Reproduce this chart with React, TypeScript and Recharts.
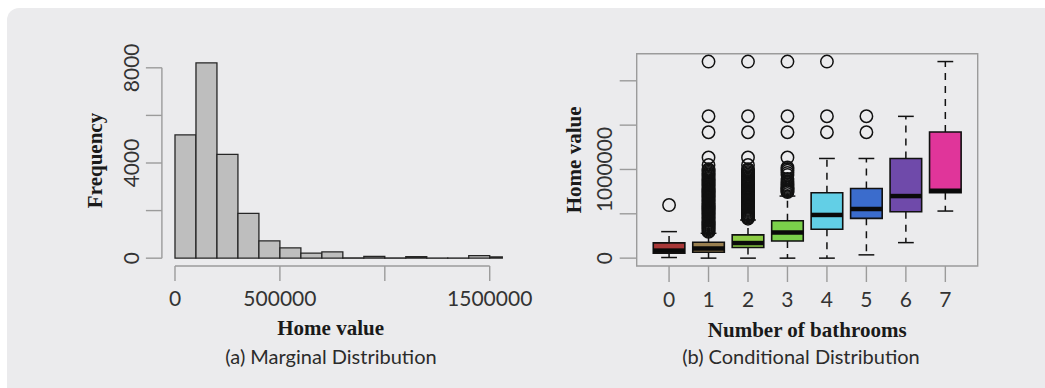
import React from "react"
import {
  ComposedChart,
  XAxis,
  YAxis,
  ReferenceArea,
  ReferenceLine,
  Scatter,
  Label,
} from "recharts"

// ---- (a) histogram of home values ----
const histBreaks = [
  0, 100000, 200000, 300000, 400000, 500000, 600000, 700000, 800000,
  900000, 1000000, 1100000, 1200000, 1300000, 1400000, 1500000, 1560000,
]
const histCounts = [5180, 8210, 4360, 1880, 730, 430, 210, 265, 12, 70, 10, 60, 6, 6, 110, 55]
const histXTicks = [0, 500000, 1000000, 1500000]
const histXLabels = [0, 500000, 1500000]
const histYTicks = [0, 2000, 4000, 6000, 8000]
const histYLabels = [0, 4000, 8000]

// ---- (b) boxplots by number of bathrooms (values in $1000s) ----
const bathrooms = [0, 1, 2, 3, 4, 5, 6, 7]
const whiskerLow = [7, 0, 0, 0, 0, 37, 175, 531]
const q1 = [56, 67, 120, 194, 326, 449, 524, 737]
const median = [85, 110, 170, 290, 487, 554, 700, 760]
const q3 = [172, 180, 262, 422, 737, 786, 1124, 1423]
const whiskerHigh = [299, 280, 430, 700, 1124, 1124, 1599, 2217]
const boxColors = ["#a83838", "#9a8050", "#8ccc44", "#7ad04a", "#62cfe6", "#3b6ccc", "#6f4aaa", "#e0359a"]
const outliersK: number[][] = [
  [599],
  [
    296, 308, 321, 333, 344, 357, 369, 380, 393, 405, 417, 428, 441, 452, 465, 476,
    489, 500, 513, 524, 537, 549, 560, 573, 585, 596, 609, 620, 633, 645, 657, 668,
    681, 693, 705, 716, 729, 741, 752, 765, 778, 790, 803, 815, 828, 840, 852, 866,
    879, 893, 905, 920, 934, 948, 962, 976, 990, 1002, 1050, 1135, 1420, 1600, 2217,
  ],
  [
    445, 457, 470, 482, 494, 505, 518, 530, 543, 555, 567, 580, 592, 604, 617, 629,
    641, 653, 666, 678, 690, 703, 715, 727, 740, 752, 765, 778, 790, 803, 816, 830,
    843, 857, 870, 884, 898, 912, 927, 942, 958, 973, 988, 1003, 1050, 1135, 1420,
    1600, 2217,
  ],
  [744, 754, 765, 776, 788, 801, 815, 830, 848, 868, 893, 938, 962, 985, 1005, 1022, 1135, 1420, 1600, 2217],
  [1420, 1600, 2217],
  [1420, 1600],
  [],
  [],
]

const outlierPoints = outliersK.flatMap((vals, i) =>
  vals.map((v) => ({ x: bathrooms[i], y: v }))
)

// R-style axis extension: 4% on each side of the data range
const ext = (lo: number, hi: number): [number, number] => {
  const pad = (hi - lo) * 0.04
  return [lo - pad, hi + pad]
}
const histXDomain = ext(histBreaks[0], histBreaks[histBreaks.length - 1])
const histYDomain = ext(0, Math.max(...histCounts))
const boxXDomain = ext(bathrooms[0] - 0.5, bathrooms[bathrooms.length - 1] + 0.5)
const boxYDomain = ext(0, Math.max(...whiskerHigh, ...outliersK.flat()))

const AXIS_GRAY = "#9b9b9b"
const TICK_FONT = "Lato, 'Open Sans', sans-serif"
const TITLE_FONT = "'Liberation Serif', 'DejaVu Serif', serif"

function RotatedTick(props: any) {
  const { x, y, payload, shown, format } = props
  if (!shown.includes(payload.value)) return null
  return (
    <text
      x={x}
      y={y}
      transform={`rotate(-90, ${x}, ${y})`}
      textAnchor="middle"
      fill="#333"
      fontFamily={TICK_FONT}
      fontSize={21}
    >
      {format ? format(payload.value) : payload.value}
    </text>
  )
}

function rotatedTitle(text: string, offset: number) {
  return (p: any) => {
    const vb = p.viewBox
    const x = vb.x + offset
    const y = vb.y + vb.height / 2
    return (
      <text
        x={x}
        y={y}
        transform={`rotate(-90, ${x}, ${y})`}
        textAnchor="middle"
        fontFamily={TITLE_FONT}
        fontWeight="bold"
        fontSize={21}
        fill="#1a1a1a"
      >
        {text}
      </text>
    )
  }
}

function Histogram() {
  const bins = histCounts.map((c, i) => ({ x0: histBreaks[i], x1: histBreaks[i + 1], count: c }))
  return (
    <ComposedChart
      width={540}
      height={388}
      data={bins}
      margin={{ top: 55, right: 24.6, left: 81.9, bottom: 42 }}
    >
      <XAxis
        type="number"
        dataKey="x0"
        domain={histXDomain}
        allowDataOverflow
        ticks={histXTicks}
        interval={0}
        axisLine={false}
        tickSize={15}
        tickMargin={10}
        tickLine={{ stroke: AXIS_GRAY, strokeWidth: 1.4 }}
        tickFormatter={(v: number) => (histXLabels.includes(v) ? String(v) : "")}
        tick={{ fill: "#333", fontSize: 21, fontFamily: TICK_FONT }}
        height={80}
      >
        <Label
          value="Home value"
          position="insideBottom"
          offset={11}
          dx={-8}
          fontFamily={TITLE_FONT}
          fontWeight="bold"
          fontSize={21}
          fill="#1a1a1a"
        />
      </XAxis>
      <YAxis
        type="number"
        domain={histYDomain}
        allowDataOverflow
        ticks={histYTicks}
        interval={0}
        axisLine={false}
        tickSize={16}
        tickMargin={7}
        tickLine={{ stroke: AXIS_GRAY, strokeWidth: 1.4 }}
        tick={<RotatedTick shown={histYLabels} />}
        width={80}
      >
        <Label content={rotatedTitle("Frequency", 19.6)} />
      </YAxis>

      {/* axis lines span first..last tick, like base R */}
      <ReferenceLine
        segment={[
          { x: histXTicks[0], y: histYDomain[0] },
          { x: histXTicks[histXTicks.length - 1], y: histYDomain[0] },
        ]}
        stroke={AXIS_GRAY}
        strokeWidth={1.4}
        ifOverflow="visible"
      />
      <ReferenceLine
        segment={[
          { x: histXDomain[0], y: histYTicks[0] },
          { x: histXDomain[0], y: histYTicks[histYTicks.length - 1] },
        ]}
        stroke={AXIS_GRAY}
        strokeWidth={1.4}
        ifOverflow="visible"
      />

      {bins.map((b, i) => (
        <ReferenceArea
          key={i}
          x1={b.x0}
          x2={b.x1}
          y1={0}
          y2={b.count}
          fill="#bebebe"
          fillOpacity={1}
          stroke="#262626"
          strokeWidth={1.3}
          ifOverflow="visible"
        />
      ))}
    </ComposedChart>
  )
}

function BoxPlot() {
  return (
    <ComposedChart
      width={505}
      height={388}
      margin={{ top: 53.7, right: 67.3, left: 16.7, bottom: 42 }}
    >
      <XAxis
        type="number"
        dataKey="x"
        domain={boxXDomain}
        allowDataOverflow
        ticks={bathrooms}
        interval={0}
        axisLine={false}
        tickSize={16}
        tickMargin={10}
        tickLine={{ stroke: AXIS_GRAY, strokeWidth: 1.4 }}
        tick={{ fill: "#333", fontSize: 21, fontFamily: TICK_FONT }}
        height={80}
      >
        <Label
          value="Number of bathrooms"
          position="insideBottom"
          offset={9.5}
          fontFamily={TITLE_FONT}
          fontWeight="bold"
          fontSize={21}
          fill="#1a1a1a"
        />
      </XAxis>
      <YAxis
        type="number"
        domain={boxYDomain}
        allowDataOverflow
        ticks={[0, 500, 1000, 1500, 2000]}
        interval={0}
        axisLine={false}
        tickSize={17}
        tickMargin={7.2}
        tickLine={{ stroke: AXIS_GRAY, strokeWidth: 1.4 }}
        tick={<RotatedTick shown={[0, 1000]} format={(v: number) => String(v * 1000)} />}
        width={80}
      >
        <Label content={rotatedTitle("Home value", 23.9)} />
      </YAxis>

      {/* plot frame */}
      <ReferenceArea
        x1={boxXDomain[0]}
        x2={boxXDomain[1]}
        y1={boxYDomain[0]}
        y2={boxYDomain[1]}
        fill="none"
        stroke={AXIS_GRAY}
        strokeWidth={1.4}
        ifOverflow="visible"
      />

      {bathrooms.map((b, i) => (
        <React.Fragment key={`w${i}`}>
          <ReferenceLine
            segment={[{ x: b, y: q3[i] }, { x: b, y: whiskerHigh[i] }]}
            stroke="#111"
            strokeWidth={1.5}
            strokeDasharray="7 6"
            ifOverflow="visible"
          />
          <ReferenceLine
            segment={[{ x: b, y: q1[i] }, { x: b, y: whiskerLow[i] }]}
            stroke="#111"
            strokeWidth={1.5}
            strokeDasharray="7 6"
            ifOverflow="visible"
          />
          <ReferenceLine
            segment={[{ x: b - 0.2, y: whiskerHigh[i] }, { x: b + 0.2, y: whiskerHigh[i] }]}
            stroke="#111"
            strokeWidth={1.5}
            ifOverflow="visible"
          />
          <ReferenceLine
            segment={[{ x: b - 0.2, y: whiskerLow[i] }, { x: b + 0.2, y: whiskerLow[i] }]}
            stroke="#111"
            strokeWidth={1.5}
            ifOverflow="visible"
          />
        </React.Fragment>
      ))}

      {bathrooms.map((b, i) => (
        <ReferenceArea
          key={`b${i}`}
          x1={b - 0.4}
          x2={b + 0.4}
          y1={q1[i]}
          y2={q3[i]}
          fill={boxColors[i]}
          fillOpacity={1}
          stroke="#111"
          strokeWidth={1.6}
          ifOverflow="visible"
        />
      ))}

      {bathrooms.map((b, i) => (
        <ReferenceLine
          key={`m${i}`}
          segment={[{ x: b - 0.4, y: median[i] }, { x: b + 0.4, y: median[i] }]}
          stroke="#0a0a0a"
          strokeWidth={4.5}
          ifOverflow="visible"
        />
      ))}

      <Scatter
        data={outlierPoints}
        dataKey="y"
        isAnimationActive={false}
        shape={(p: any) => (
          <circle cx={p.cx} cy={p.cy} r={6.2} fill="none" stroke="#111" strokeWidth={1.5} />
        )}
      />
    </ComposedChart>
  )
}

const captionStyle: React.CSSProperties = {
  position: "absolute",
  top: 345,
  width: 320,
  textAlign: "center",
  fontFamily: TICK_FONT,
  fontSize: 20,
  lineHeight: "22px",
  color: "#2b2b2b",
}

export default function App() {
  return (
    <div
      style={{
        position: "absolute",
        left: 0,
        top: 0,
        width: 1045,
        height: 388,
        background: "#ffffff",
        overflow: "hidden",
      }}
    >
      <div
        style={{
          position: "absolute",
          left: 7,
          top: 8,
          width: 1060,
          height: 400,
          background: "#ebebed",
          borderRadius: 12,
        }}
      />
      <div style={{ position: "absolute", left: 0, top: 0 }}>
        <Histogram />
      </div>
      <div style={{ position: "absolute", left: 540, top: 0 }}>
        <BoxPlot />
      </div>
      <div style={{ ...captionStyle, left: 331 - 160 }}>(a) Marginal Distribution</div>
      <div style={{ ...captionStyle, left: 801 - 160 }}>(b) Conditional Distribution</div>
    </div>
  )
}
